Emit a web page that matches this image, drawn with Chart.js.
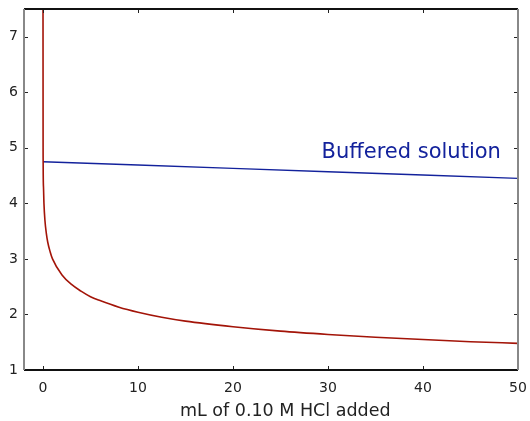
<!DOCTYPE html>
<html>
<head>
<meta charset="utf-8">
<script src="https://cdn.jsdelivr.net/npm/chart.js@4"></script>
<style>
  html, body { margin: 0; padding: 0; background: #fff; }
  #wrap { width: 530px; height: 421px; }
</style>
</head>
<body>
<div id="wrap"><canvas id="grafico"></canvas></div>
<script>
// pH de agua (sin buffer) al agregar HCl 0.10 M
var aguaX = [0, 0.01, 0.05, 0.1, 0.2, 0.35, 0.5, 0.75, 1, 2, 3, 4, 5, 6, 8, 10, 12.5, 15, 20, 25, 30, 35, 40, 45, 50];
var aguaY = [8, 5.0, 4.3, 4.0, 3.7, 3.46, 3.3, 3.13, 3.0, 2.71, 2.54, 2.42, 2.32, 2.25, 2.13, 2.04, 1.95, 1.88, 1.78, 1.70, 1.64, 1.59, 1.55, 1.51, 1.48];

// pH de la solucion buffer
var bufferX = [0, 10, 20, 30, 40, 50];
var bufferY = [4.75, 4.69, 4.63, 4.57, 4.51, 4.45];

var ticksX = [0, 10, 20, 30, 40, 50];
var ticksY = [1, 2, 3, 4, 5, 6, 7];

var tituloX = "mL of 0.10 M HCl added";

var rojo = "#a31408";
var azul = "#13229c";
var fuente = "'DejaVu Sans', Verdana, sans-serif";

function puntos(xs, ys) {
    return xs.map(function (x, i) { return { x: x, y: ys[i] }; });
}

// marco y marcas hacia adentro, etiqueta del buffer, titulo del eje
var marco = {
    id: "marco",
    afterDraw: function (chart) {
        var ctx = chart.ctx;
        var a = chart.chartArea;
        var sx = chart.scales.x;
        var sy = chart.scales.y;
        ctx.save();
        ctx.lineWidth = 1;
        ctx.strokeStyle = "#222";
        ticksX.forEach(function (v) {
            var px = Math.round(sx.getPixelForValue(v)) + 0.5;
            ctx.beginPath();
            ctx.moveTo(px, a.bottom); ctx.lineTo(px, a.bottom - 4);
            ctx.moveTo(px, a.top); ctx.lineTo(px, a.top + 4);
            ctx.stroke();
        });
        ticksY.forEach(function (v) {
            var py = Math.round(sy.getPixelForValue(v)) + 0.5;
            ctx.beginPath();
            ctx.moveTo(a.left, py); ctx.lineTo(a.left + 4, py);
            ctx.moveTo(a.right, py); ctx.lineTo(a.right - 4, py);
            ctx.stroke();
        });
        ctx.lineWidth = 2;
        ctx.strokeStyle = "#111";
        ctx.beginPath();
        ctx.moveTo(a.left, a.top); ctx.lineTo(a.right, a.top);
        ctx.moveTo(a.left, a.bottom); ctx.lineTo(a.right, a.bottom);
        ctx.stroke();
        ctx.strokeStyle = "#888";
        ctx.beginPath();
        ctx.moveTo(a.left, a.top); ctx.lineTo(a.left, a.bottom);
        ctx.moveTo(a.right, a.top); ctx.lineTo(a.right, a.bottom);
        ctx.stroke();

        ctx.fillStyle = azul;
        ctx.font = "21px " + fuente;
        ctx.textAlign = "right";
        ctx.textBaseline = "alphabetic";
        ctx.fillText("Buffered solution", sx.getPixelForValue(48.2), sy.getPixelForValue(4.82));

        ctx.fillStyle = "#222";
        ctx.font = "17.5px " + fuente;
        ctx.textAlign = "center";
        ctx.textBaseline = "middle";
        ctx.fillText(tituloX, sx.getPixelForValue(25.5), 411);
        ctx.restore();
    }
};

var grafico = new Chart(document.getElementById("grafico"), {
    type: "scatter",
    data: {
        datasets: [
            {
                label: "Agua",
                data: puntos(aguaX, aguaY),
                showLine: true,
                borderColor: rojo,
                borderWidth: 1.6,
                pointRadius: 0,
                cubicInterpolationMode: "monotone",
            },
            {
                label: "Buffered solution",
                data: puntos(bufferX, bufferY),
                showLine: true,
                borderColor: azul,
                borderWidth: 1.4,
                pointRadius: 0,
            },
        ],
    },
    options: {
        responsive: true,
        maintainAspectRatio: false,
        animation: false,
        layout: { padding: { top: 9, right: 12, left: 0, bottom: 0 } },
        plugins: {
            legend: { display: false },
            tooltip: { enabled: false },
        },
        scales: {
            x: {
                type: "linear",
                min: -2,
                max: 50,
                afterFit: function (s) { s.height = 51; s.paddingLeft = 0; s.paddingRight = 0; },
                grid: { display: false, drawTicks: false },
                border: { display: false },
                ticks: {
                    stepSize: 10,
                    includeBounds: false,
                    padding: 10,
                    color: "#222",
                    font: { family: fuente, size: 14 },
                    maxRotation: 0,
                },
            },
            y: {
                type: "linear",
                min: 1,
                max: 7.5,
                afterFit: function (s) { s.width = 24; s.paddingTop = 0; s.paddingBottom = 0; },
                grid: { display: false, drawTicks: false },
                border: { display: false },
                ticks: {
                    stepSize: 1,
                    includeBounds: false,
                    padding: 6,
                    color: "#222",
                    font: { family: fuente, size: 14 },
                },
            },
        },
    },
    plugins: [marco],
});
</script>
</body>
</html>
